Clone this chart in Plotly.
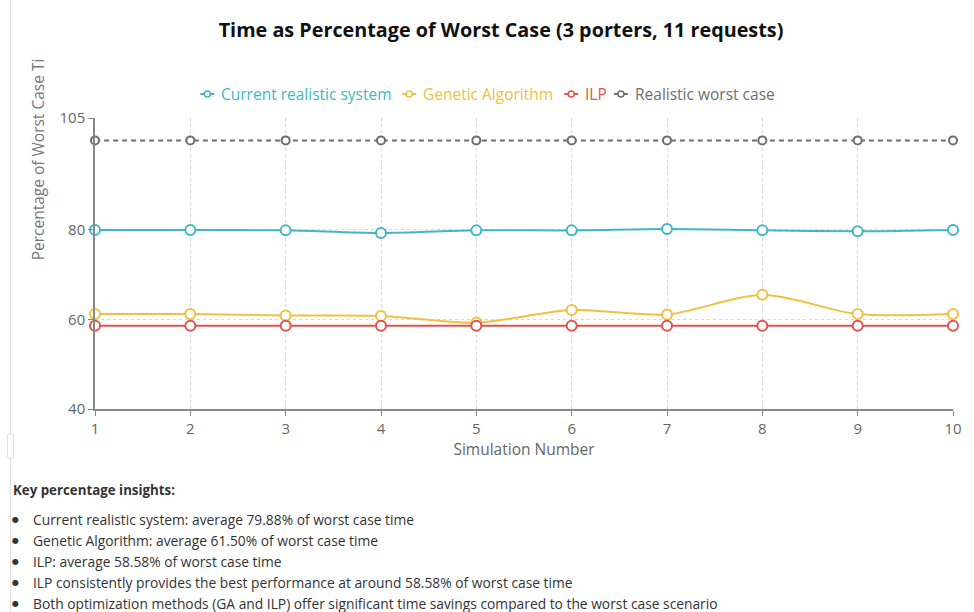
import plotly.graph_objects as go

simulations = [1, 2, 3, 4, 5, 6, 7, 8, 9, 10]
current_system = [80.0, 80.0, 79.9, 79.3, 79.9, 79.9, 80.2, 79.9, 79.7, 80.0]
genetic_algorithm = [61.2, 61.2, 60.9, 60.8, 59.3, 62.1, 61.1, 65.5, 61.2, 61.2]
ilp = [58.58, 58.58, 58.58, 58.58, 58.58, 58.58, 58.58, 58.58, 58.58, 58.58]
worst_case = [100, 100, 100, 100, 100, 100, 100, 100, 100, 100]
y_ticks = [40, 60, 80, 105]

series_names = ["Current realistic system", "Genetic Algorithm", "ILP", "Realistic worst case"]
series_colors = ["#3fb6c9", "#f2c03e", "#e0534e", "#6e6e6e"]

insights_title = "Key percentage insights:"
insights = [
    "Current realistic system: average 79.88% of worst case time",
    "Genetic Algorithm: average 61.50% of worst case time",
    "ILP: average 58.58% of worst case time",
    "ILP consistently provides the best performance at around 58.58% of worst case time",
    "Both optimization methods (GA and ILP) offer significant time savings compared to the worst case scenario",
]

FONT = "Open Sans"
W, H = 974, 612
L, R, T, B = 95, 958, 118, 409


def px_x(px):
    return (px - L) / (R - L)


def px_y(py):
    return (B - py) / (B - T)


fig = go.Figure()
all_series = [current_system, genetic_algorithm, ilp, worst_case]
for name, vals, col in zip(series_names, all_series, series_colors):
    dash = "5px,4px" if name == "Realistic worst case" else "solid"
    fig.add_trace(go.Scatter(
        x=simulations, y=vals, name=name, mode="lines+markers",
        line=dict(color=col, width=2, shape="spline", smoothing=0.8, dash=dash),
        marker=dict(symbol="circle", size=10 if dash == "solid" else 8, color="white",
                    line=dict(color=col, width=2)),
        cliponaxis=False, showlegend=False,
    ))

annotations = [
    dict(text="Percentage of Worst Case Ti", textangle=-90, xref="paper", yref="paper",
         x=px_x(38), y=px_y(159), xanchor="center", yanchor="middle", showarrow=False,
         font=dict(family=FONT, size=15.5, color="#777")),
    dict(text="<b>" + insights_title + "</b>", xref="paper", yref="paper",
         x=px_x(11), y=px_y(490), xanchor="left", yanchor="middle", showarrow=False,
         font=dict(family=FONT, size=13.3, color="#333")),
]
for i, t in enumerate(insights):
    yy = 519 + i * 21
    annotations.append(dict(text="●", xref="paper", yref="paper", x=px_x(15), y=px_y(yy),
                            xanchor="center", yanchor="middle", showarrow=False,
                            font=dict(family="DejaVu Sans", size=8, color="#333")))
    annotations.append(dict(text=t, xref="paper", yref="paper", x=px_x(31), y=px_y(yy),
                            xanchor="left", yanchor="middle", showarrow=False,
                            font=dict(family=FONT, size=13.8, color="#333")))

shapes = [
    dict(type="line", xref="paper", yref="paper", x0=px_x(10), x1=px_x(10),
         y0=px_y(0), y1=px_y(612), line=dict(color="#e2e2e2", width=1)),
    dict(type="rect", xref="paper", yref="paper", x0=px_x(7), x1=px_x(13),
         y0=px_y(434), y1=px_y(458), line=dict(color="#e2e2e2", width=1),
         fillcolor="white"),
]

# custom compact legend (symbol: short line with small hollow circle, coloured text)
legend_x = [201, 404, 567, 617]
legend_y = 94
for name, col, lx in zip(series_names, series_colors, legend_x):
    shapes.append(dict(type="line", xref="paper", yref="paper",
                       x0=px_x(lx), x1=px_x(lx + 14), y0=px_y(legend_y), y1=px_y(legend_y),
                       line=dict(color=col, width=2)))
    shapes.append(dict(type="circle", xref="paper", yref="paper",
                       x0=px_x(lx + 4), x1=px_x(lx + 10), y0=px_y(legend_y - 3),
                       y1=px_y(legend_y + 3), line=dict(color=col, width=1.5),
                       fillcolor="white"))
    annotations.append(dict(text=name, xref="paper", yref="paper", x=px_x(lx + 19),
                            y=px_y(legend_y), xanchor="left", yanchor="middle",
                            showarrow=False,
                            font=dict(family=FONT, size=15.5, color=col)))

fig.update_layout(
    width=W, height=H,
    margin=dict(l=L, r=W - R, t=T, b=H - B),
    paper_bgcolor="white", plot_bgcolor="white",
    font=dict(family=FONT, color="#666"),
    title=dict(text="<b>Time as Percentage of Worst Case (3 porters, 11 requests)</b>",
               x=501 / W, xref="container", xanchor="center", y=1 - 30 / H,
               yref="container", yanchor="middle",
               font=dict(family=FONT, size=19.8, color="#111")),
    showlegend=False,
    xaxis=dict(range=[1, 10], tickvals=simulations, showgrid=True,
               gridcolor="#d6d6d6", griddash="dot", gridwidth=1,
               showline=True, linecolor="#888", linewidth=1.5,
               ticks="outside", ticklen=5, tickcolor="#888",
               tickfont=dict(family=FONT, size=15, color="#666"),
               title=dict(text="Simulation Number", standoff=0,
                          font=dict(family=FONT, size=15.5, color="#666")),
               zeroline=False),
    yaxis=dict(range=[40, 105], tickvals=y_ticks, showgrid=True,
               gridcolor="#d6d6d6", griddash="dot", gridwidth=1,
               showline=True, linecolor="#888", linewidth=1.5,
               ticks="outside", ticklen=5, tickcolor="#888",
               tickfont=dict(family=FONT, size=15, color="#666"),
               zeroline=False),
    annotations=annotations,
    shapes=shapes,
)

fig.write_html("out.html")
